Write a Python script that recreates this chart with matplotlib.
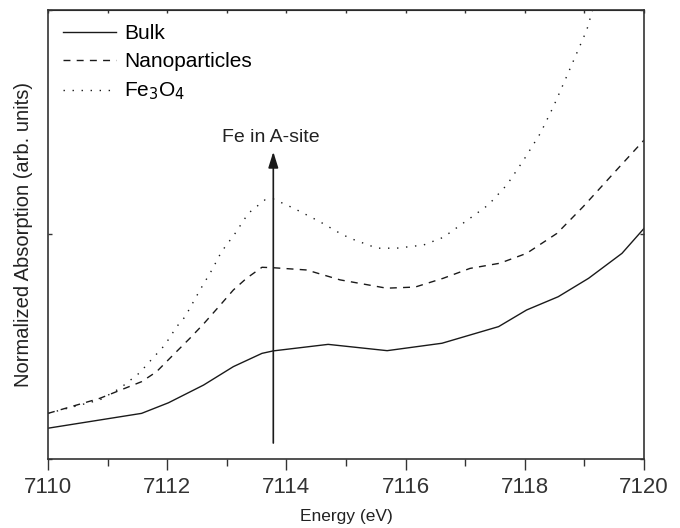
import matplotlib
matplotlib.use('Agg')
import matplotlib.pyplot as plt
from matplotlib.ticker import MultipleLocator

plt.rcParams['font.family'] = ['Liberation Sans', 'DejaVu Sans']

# energy (eV) and normalized absorption
bulk_e = [7110.0, 7111.57, 7112.02, 7112.61, 7113.11, 7113.59, 7113.78, 7114.70,
          7115.69, 7116.61, 7117.56, 7118.03, 7118.56, 7119.07, 7119.63, 7120.0]
bulk_v = [0.137, 0.203, 0.250, 0.329, 0.411, 0.470, 0.481, 0.510,
          0.482, 0.515, 0.589, 0.663, 0.722, 0.804, 0.915, 1.026]

nano_e = [7110.0, 7110.87, 7111.57, 7111.82, 7112.10, 7112.38, 7112.61, 7112.89,
          7113.11, 7113.33, 7113.59, 7113.78, 7114.34, 7114.90, 7115.68, 7116.16,
          7116.63, 7117.08, 7117.58, 7118.03, 7118.54, 7118.98, 7119.54, 7120.0]
nano_v = [0.203, 0.270, 0.344, 0.388, 0.463, 0.537, 0.601, 0.685,
          0.752, 0.804, 0.853, 0.851, 0.841, 0.797, 0.760, 0.765,
          0.804, 0.848, 0.871, 0.915, 1.004, 1.123, 1.286, 1.419]

fe3o4_e = [7110.0, 7110.87, 7111.21, 7111.54, 7111.68, 7111.96, 7112.16, 7112.30,
           7112.55, 7112.75, 7112.91, 7113.14, 7113.36, 7113.64, 7113.78, 7114.12,
           7114.56, 7114.90, 7115.07, 7115.52, 7115.85, 7116.30, 7116.63, 7117.08,
           7117.39, 7117.70, 7117.98, 7118.26, 7118.48, 7118.70, 7118.87, 7119.04,
           7119.30]
fe3o4_v = [0.203, 0.263, 0.315, 0.384, 0.426, 0.507, 0.589, 0.633,
           0.752, 0.841, 0.922, 1.004, 1.093, 1.153, 1.157, 1.116,
           1.056, 1.004, 0.982, 0.938, 0.938, 0.952, 0.986, 1.071,
           1.131, 1.220, 1.330, 1.449, 1.568, 1.701, 1.805, 1.909,
           2.150]

arrow_e = 7113.78
arrow_from = 0.071
arrow_to = 1.367
arrow_label = 'Fe in A-site'

fig = plt.figure(figsize=(6.8, 5.28), dpi=100)
ax = fig.add_axes([0.0706, 0.1307, 0.8765, 0.8513])

ink = '#1a1a1a'
ax.plot(bulk_e, bulk_v, color=ink, lw=1.0, label='Bulk')
ax.plot(nano_e, nano_v, color=ink, lw=1.0, dashes=(5, 4.5), label='Nanoparticles')
ax.plot(fe3o4_e, fe3o4_v, color=ink, lw=1.0, dashes=(1, 5.5), label='Fe$_3$O$_4$')

ax.annotate('', xy=(arrow_e, arrow_to), xytext=(arrow_e, arrow_from),
            arrowprops=dict(arrowstyle='-|>,head_length=0.8,head_width=0.25',
                            color=ink, lw=1.2, mutation_scale=12,
                            shrinkA=0, shrinkB=0))
ax.text(arrow_e - 0.05, 1.43, arrow_label, ha='center', va='center',
        fontsize=14, color='#222222')

ax.set_xlim(7110, 7120)
ax.set_ylim(0, 2)
ax.xaxis.set_major_locator(MultipleLocator(2))
ax.xaxis.set_minor_locator(MultipleLocator(1))
ax.set_yticks([0, 1, 2])
ax.set_yticklabels([])
ax.tick_params(axis='x', which='major', direction='out', length=8, width=1,
               labelsize=16, colors='#333333', pad=5)
ax.tick_params(axis='x', which='minor', direction='out', length=5, width=1,
               colors='#333333')
ax.tick_params(axis='y', direction='in', length=3, width=1, right=True,
               colors='#333333')
for s in ax.spines.values():
    s.set_linewidth(1.2)
    s.set_color('#333333')

# small inward ticks along the top edge
top = ax.secondary_xaxis('top')
top.xaxis.set_major_locator(MultipleLocator(1))
top.tick_params(direction='in', length=2, width=1, labeltop=False,
                colors='#333333')

ax.set_xlabel('Energy (eV)', fontsize=12.5, color='#222222', labelpad=8)
ax.set_ylabel('Normalized Absorption (arb. units)', fontsize=14.5,
              color='#222222', labelpad=7)

ax.legend(loc='upper left', frameon=False, fontsize=15, handlelength=2.55,
          handletextpad=0.4, labelspacing=0.45, borderaxespad=0.3,
          borderpad=0.4)

fig.savefig('out.png', dpi=100)
